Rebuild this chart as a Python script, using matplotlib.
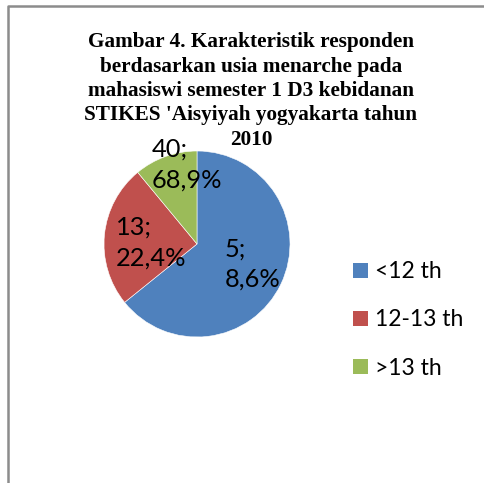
import matplotlib
matplotlib.use("Agg")
import matplotlib.pyplot as plt
from matplotlib.lines import Line2D
from matplotlib.patches import Patch

categories = ["<12 th", "12-13 th", ">13 th"]
shares = [64.2, 24.8, 11.0]          # slice sizes as drawn
label_texts = ["5;\n8,6%", "13;\n22,4%", "40;\n68,9%"]
colors = ["#4F81BD", "#C0504D", "#9BBB59"]
title_lines = ["Gambar 4. Karakteristik responden",
               "berdasarkan usia menarche pada",
               "mahasiswi semester 1 D3 kebidanan",
               "STIKES 'Aisyiyah yogyakarta tahun",
               "2010"]

W, H = 485, 483
fig = plt.figure(figsize=(W / 100, H / 100), dpi=100)
fig.patch.set_facecolor("white")

cx, cy, r = 197, 244, 93
ax = fig.add_axes([(cx - r) / W, (H - cy - r) / H, 2 * r / W, 2 * r / H])
wedges, _ = ax.pie(shares, colors=colors, startangle=90, counterclock=False,
                   radius=1, wedgeprops=dict(edgecolor="white", linewidth=0.4))
ax.set_xlim(-1, 1)
ax.set_ylim(-1, 1)
ax.set_aspect("equal")
ax.axis("off")

label_pos = [(0.30, -0.215), (-0.87, 0.016), (-0.484, 0.855)]
for (x, y), t in zip(label_pos, label_texts):
    ax.text(x, y, t, ha="left", va="center", fontsize=18.3, family="Lato",
            linespacing=1.4, color="black", clip_on=False)

for i, line in enumerate(title_lines):
    ycen = 40 + 24.3 * i
    fig.text(251 / W, 1 - ycen / H, line, ha="center", va="center_baseline",
             fontsize=15.3, family="Liberation Serif", fontweight="bold")

handles = [Patch(facecolor=c, edgecolor="none") for c in colors]
fig.legend(handles, categories, loc="center left",
           bbox_to_anchor=(353 / W, 1 - 320 / H), frameon=False,
           prop=dict(family="Lato", size=16.5), handlelength=0.65, handleheight=0.65,
           handletextpad=0.3, labelspacing=1.18, borderpad=0, borderaxespad=0)

fig.add_artist(Line2D([8.5 / W, 8.5 / W, 1.0], [0.0, 1 - 5.5 / H, 1 - 5.5 / H],
                      transform=fig.transFigure, color="#8C8C8C", linewidth=1.8))

fig.savefig("out.png", dpi=100, facecolor="white")
